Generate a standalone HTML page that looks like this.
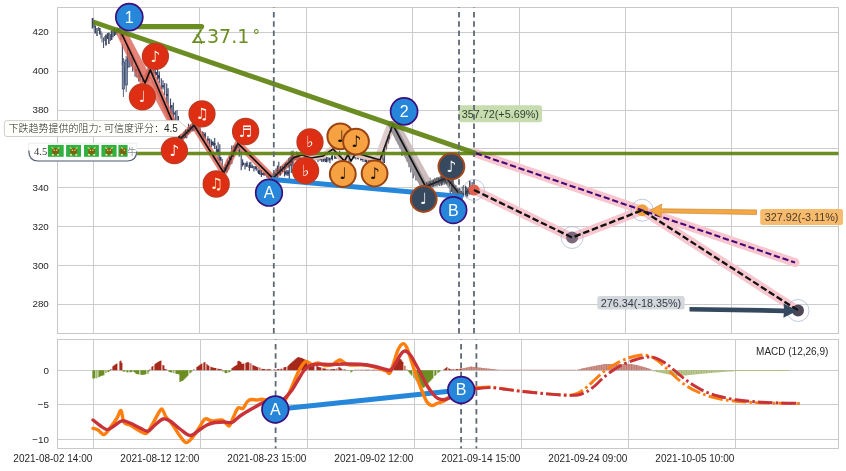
<!DOCTYPE html>
<html lang="zh"><head><meta charset="utf-8"><title>chart</title>
<style>html,body{margin:0;padding:0;background:#fff;}body{width:846px;height:471px;overflow:hidden;}svg{display:block}text{font-family:"Liberation Sans","Noto Sans CJK SC",sans-serif;}.tk{font-size:10px;fill:#262626}.nt{font-family:"DejaVu Sans","Liberation Sans",sans-serif;text-anchor:middle}</style></head><body>
<svg width="846" height="471" viewBox="0 0 846 471">
<rect width="846" height="471" fill="#fff"/>
<path d="M93.5 7.5V333.5M199.5 7.5V333.5M306.5 7.5V333.5M412.5 7.5V333.5M519.5 7.5V333.5M625.5 7.5V333.5M731.5 7.5V333.5M57.5 304.5H838.5M57.5 265.5H838.5M57.5 226.5H838.5M57.5 187.5H838.5M57.5 148.5H838.5M57.5 110.5H838.5M57.5 71.5H838.5M57.5 32.5H838.5" stroke="#cccccc" stroke-width="1" fill="none"/>
<path d="M93.5 339.5V448.5M200.5 339.5V448.5M307.5 339.5V448.5M414.5 339.5V448.5M521.5 339.5V448.5M628.5 339.5V448.5M735.5 339.5V448.5M57.5 370.5H838.5M57.5 404.5H838.5M57.5 439.5H838.5" stroke="#cccccc" stroke-width="1" fill="none"/>
<rect x="57.5" y="7.5" width="781.0" height="326.0" fill="none" stroke="#c8c8c8" stroke-width="1"/>
<rect x="57.5" y="339.5" width="781.0" height="109.0" fill="none" stroke="#c8c8c8" stroke-width="1"/>
<text class="tk" x="48.8" y="307.4" text-anchor="end" style="font-size:9.8px">280</text>
<text class="tk" x="48.8" y="268.6" text-anchor="end" style="font-size:9.8px">300</text>
<text class="tk" x="48.8" y="229.7" text-anchor="end" style="font-size:9.8px">320</text>
<text class="tk" x="48.8" y="190.8" text-anchor="end" style="font-size:9.8px">340</text>
<text class="tk" x="48.8" y="152.0" text-anchor="end" style="font-size:9.8px">360</text>
<text class="tk" x="48.8" y="113.1" text-anchor="end" style="font-size:9.8px">380</text>
<text class="tk" x="48.8" y="74.3" text-anchor="end" style="font-size:9.8px">400</text>
<text class="tk" x="48.8" y="35.4" text-anchor="end" style="font-size:9.8px">420</text>
<text class="tk" x="48.9" y="373.7" text-anchor="end" style="font-size:9.8px">0</text>
<text class="tk" x="48.9" y="408.2" text-anchor="end" style="font-size:9.8px">−5</text>
<text class="tk" x="48.9" y="442.7" text-anchor="end" style="font-size:9.8px">−10</text>
<text class="tk" x="92.3" y="461.8" text-anchor="end">2021-08-02 14:00</text>
<text class="tk" x="199.3" y="461.8" text-anchor="end">2021-08-12 12:00</text>
<text class="tk" x="306.3" y="461.8" text-anchor="end">2021-08-23 15:00</text>
<text class="tk" x="413.3" y="461.8" text-anchor="end">2021-09-02 12:00</text>
<text class="tk" x="520.3" y="461.8" text-anchor="end">2021-09-14 15:00</text>
<text class="tk" x="627.3" y="461.8" text-anchor="end">2021-09-24 09:00</text>
<text class="tk" x="734.3" y="461.8" text-anchor="end">2021-10-05 10:00</text>
<path d="M121.0 29.6v10.4M122.4 43.9v21.5M123.8 67.1v16.1M125.2 70.6v11.5M127.6 46.0v22.4M129.6 55.7v9.5M131.3 56.9v9.7M132.7 58.1v13.5M135.1 66.0v10.8M136.8 69.8v7.8M138.8 68.9v12.6M140.2 72.2v8.5M142.6 75.5v7.3M144.6 79.5v4.9M147.0 72.2v9.9M148.4 60.3v20.6M150.8 67.6v5.5M153.2 67.9v7.6M155.2 67.1v6.6M157.6 66.9v13.0M159.3 71.4v11.9M161.3 78.2v10.8M163.0 80.3v9.3M164.7 82.9v12.6M166.7 83.5v20.0M168.1 88.2v21.2M170.5 98.4v14.9M171.9 105.1v9.1M173.3 102.5v19.9M175.3 110.8v10.9M177.0 110.1v25.4M178.4 115.9v18.2M180.4 127.1v12.8M182.8 136.2v4.8M184.8 130.4v6.2M186.8 129.5v8.7M188.5 123.8v10.7M190.5 124.8v7.2M192.9 122.6v9.0M194.3 124.1v7.0M196.3 122.1v8.1M198.3 125.0v7.5M200.0 122.3v14.4M202.4 131.5v5.2M203.8 132.1v8.0M205.5 132.6v6.7M207.9 136.2v7.1M209.6 138.5v8.6M211.3 139.4v7.6M213.3 141.6v4.7M214.7 138.1v10.9M216.4 145.4v7.7M218.1 142.3v18.6M219.8 144.2v19.1M222.2 159.0v15.1M223.6 167.5v16.8M225.3 165.0v7.5M227.3 159.2v13.0M228.7 160.4v9.4M230.1 155.6v9.1M231.8 145.5v18.6M233.5 145.5v11.4M235.2 146.5v7.0M237.2 142.4v2.9M239.2 141.5v15.2M241.2 151.3v19.0M242.6 159.2v7.4M245.0 162.7v6.9M247.0 161.2v5.2M249.4 162.2v8.7M250.8 161.8v6.3M252.2 164.4v3.9M253.9 165.9v5.6M256.3 166.5v4.2M258.0 167.5v5.2M260.0 169.3v5.8M261.4 169.7v7.2M263.4 172.0v3.2M265.1 171.1v4.1M266.8 171.9v5.5M268.2 175.2v3.3M269.9 174.1v6.4M272.3 174.8v5.6M274.3 172.2v10.4M276.0 168.4v6.8M277.4 165.4v8.3M278.8 161.7v11.9M280.8 167.1v4.9M282.5 166.7v5.3M284.5 168.5v8.1M286.2 170.0v5.6M287.9 170.1v5.8M289.3 165.2v15.4M291.3 151.2v21.7M293.0 150.5v17.0M295.0 156.1v4.2M296.7 151.6v8.9M298.4 153.8v8.5M299.8 156.9v4.3M301.2 155.1v3.0M303.6 153.6v7.8M306.0 155.3v3.2M307.4 156.8v3.8M308.8 157.7v3.5M311.2 155.1v5.2M313.2 157.7v4.7M314.9 155.8v4.8M316.6 155.6v3.1M318.0 157.1v5.0M320.0 157.2v3.5M321.7 157.8v4.1M324.1 155.3v5.3M326.5 157.1v5.3M327.9 157.1v4.6M329.9 157.5v5.8M332.3 154.8v5.6M334.7 154.2v4.7M336.1 154.6v4.3M337.5 155.1v2.5M339.5 150.7v8.2M340.9 153.6v7.4M342.9 156.7v5.5M344.6 153.9v10.7M346.6 155.2v5.1M349.0 152.2v11.6M350.4 150.5v6.1M352.1 154.0v3.6M353.8 153.3v4.9M355.8 154.0v5.6M358.2 155.1v4.3M360.6 155.8v4.6M363.0 157.2v4.9M365.0 158.1v4.1M366.7 158.1v6.8M368.4 158.4v3.1M370.4 157.8v4.4M372.1 156.4v6.3M373.5 156.5v5.2M375.9 155.7v6.2M378.3 159.1v2.8M379.7 159.8v6.8M381.1 151.5v12.4M383.1 145.0v21.5M384.5 141.2v21.9M386.5 137.3v11.4M388.9 127.3v13.0M390.6 123.7v12.2M392.6 122.3v6.1M394.3 123.3v10.5M396.3 126.8v13.8M398.3 131.9v12.3M400.0 135.3v12.5M402.0 138.7v17.2M403.7 146.4v8.1M405.4 150.6v6.4M407.1 151.5v10.0M409.1 155.8v11.4M410.8 159.3v13.1M413.2 163.6v14.6M414.6 163.1v10.5M416.0 167.7v12.7M418.0 173.7v7.0M419.7 174.8v9.7M422.1 177.6v9.4M423.5 181.1v6.8M424.9 184.4v5.6M426.3 182.3v5.0M428.3 181.6v5.2M430.0 177.8v7.8M432.4 180.9v8.1M434.8 177.9v5.9M436.5 179.9v4.6M437.9 179.2v4.9M439.3 177.2v8.7M441.7 177.7v7.7M444.1 175.2v9.5M446.5 173.2v8.9M448.5 175.3v12.5M450.2 175.3v18.4M451.6 178.1v13.5M453.0 178.7v14.9M454.7 185.9v11.0M456.1 185.4v10.4M457.8 189.2v9.1M459.8 188.6v8.2M461.2 191.1v7.9M463.6 187.1v9.3M466.0 186.4v9.9M467.7 188.5v8.0M469.7 180.3v14.2M472.1 182.0v12.6" stroke="#3e4a6b" stroke-width="1.15" fill="none"/>
<path d="M121.0 33.5v2.0M123.5 66.9v10.0M126.0 70.1v10.0M129.5 59.2v1.9M132.0 62.2v1.9M136.0 68.7v3.1M139.5 75.0v1.9M143.0 78.7v2.8M145.5 79.7v2.7M148.5 72.5v3.6M151.0 69.9v2.7M153.5 70.0v3.1M156.0 72.1v3.1M159.0 74.9v3.6M163.0 85.2v2.0M167.0 93.9v2.0M171.0 105.4v1.9M174.5 112.4v2.1M177.5 120.6v2.9M180.0 132.7v2.3M184.0 134.8v2.9M187.5 130.8v2.3M190.5 126.9v3.1M194.5 124.8v1.9M197.0 126.9v2.7M200.0 129.4v3.0M204.0 133.9v3.5M208.0 138.8v1.8M212.0 141.6v3.5M214.5 143.1v1.8M218.0 149.2v2.8M220.5 157.0v3.7M223.5 170.1v1.7M226.0 166.0v4.0M230.0 158.0v3.5M233.0 151.7v3.3M236.0 145.1v2.4M239.5 149.4v3.7M243.0 162.5v2.6M246.5 162.9v3.8M249.5 165.0v3.0M252.5 166.2v1.6M255.5 166.2v3.1M259.0 170.2v3.7M262.0 172.9v2.2M264.5 173.0v2.4M268.5 174.4v3.0M271.0 175.2v2.8M275.0 173.9v2.4M279.0 168.8v2.9M282.5 169.6v1.7M285.5 171.2v3.4M288.0 171.5v2.8M291.5 161.5v4.0M295.0 156.6v3.4M298.0 155.4v3.0M302.0 156.3v2.4M304.5 156.0v2.1M307.0 156.2v1.5M310.5 156.5v2.8M313.5 157.4v2.3M316.5 156.9v3.1M320.5 158.2v1.5M323.5 159.1v2.6M326.0 158.4v3.7M329.5 158.1v2.2M332.0 155.7v3.6M335.5 155.2v2.9M339.5 154.4v3.8M342.0 158.1v1.6M345.0 157.7v1.6M347.5 154.3v2.9M350.5 153.5v2.0M354.5 156.3v1.9M358.0 155.6v3.1M362.0 158.7v1.5M366.0 159.2v2.7M370.0 157.9v4.0M373.5 159.6v1.6M377.0 159.9v3.8M380.5 160.3v2.2M384.5 149.8v3.8M388.0 135.7v3.8M391.0 127.3v2.8M394.0 126.0v2.1M397.0 133.0v3.4M400.5 141.3v2.5M403.5 147.8v3.6M407.5 155.7v2.8M410.0 161.4v2.6M413.0 167.0v2.3M416.0 171.6v3.0M419.0 176.8v1.6M421.5 181.1v1.9M424.5 184.9v1.6M427.5 184.3v3.1M430.0 183.6v1.7M433.5 180.3v3.9M436.0 181.1v3.4M440.0 178.6v2.0M442.5 176.6v3.9M445.0 177.7v3.1M448.5 180.1v1.8M451.5 184.0v2.3M455.0 187.8v2.1M458.5 190.9v3.4M462.0 192.7v3.0M466.0 190.8v3.0M468.5 190.3v1.6M471.0 186.6v3.3" stroke="#343f5c" stroke-width="2" fill="none"/>
<path d="M92.6 18V28.5" stroke="#3a4560" stroke-width="1.8" fill="none"/><path d="M94.3 20V27" stroke="#3a4560" stroke-width="0.9" fill="none"/><path d="M95.2 25.5V33.5" stroke="#3a4560" stroke-width="1.6" fill="none"/><path d="M97.0 28V36" stroke="#3a4560" stroke-width="1.4" fill="none"/><path d="M98.6 27V31" stroke="#3a4560" stroke-width="0.9" fill="none"/><path d="M99.8 28V34.5" stroke="#3a4560" stroke-width="1.6" fill="none"/><path d="M100.9 31V38.5" stroke="#3a4560" stroke-width="0.9" fill="none"/><path d="M102.0 33V42.5" stroke="#3a4560" stroke-width="0.9" fill="none"/><path d="M103.6 37.5V48" stroke="#3a4560" stroke-width="1.0" fill="none"/><path d="M104.8 36V41" stroke="#3a4560" stroke-width="0.9" fill="none"/><path d="M106.0 34.5V45.5" stroke="#3a4560" stroke-width="1.7" fill="none"/><path d="M107.6 33V39" stroke="#3a4560" stroke-width="1.3" fill="none"/><path d="M108.9 32.5V44" stroke="#3a4560" stroke-width="1.5" fill="none"/><path d="M110.4 34V41" stroke="#3a4560" stroke-width="0.9" fill="none"/><path d="M111.6 30.5V40" stroke="#3a4560" stroke-width="1.6" fill="none"/><path d="M113.0 29V37.5" stroke="#3a4560" stroke-width="1.2" fill="none"/><path d="M114.4 27.5V36" stroke="#3a4560" stroke-width="1.4" fill="none"/><path d="M115.8 29.5V35" stroke="#3a4560" stroke-width="1.4" fill="none"/><path d="M117.2 27.5V33.5" stroke="#3a4560" stroke-width="1.4" fill="none"/><path d="M118.6 28V33" stroke="#3a4560" stroke-width="1.3" fill="none"/><path d="M120.0 27V34" stroke="#3a4560" stroke-width="1.2" fill="none"/>
<path d="M123.4 58V97M126.2 56V92" stroke="#46536e" stroke-width="0.9" fill="none"/>
<rect x="122.2" y="62" width="2.4" height="27" fill="#7c89a6" stroke="#3d4a69" stroke-width="0.7"/>
<rect x="125" y="60" width="2.4" height="25" fill="#7c89a6" stroke="#3d4a69" stroke-width="0.7"/>
<rect x="127.8" y="53" width="2.2" height="14" fill="#7c89a6" stroke="#3d4a69" stroke-width="0.7"/>
<path d="M125.0 35.0L180.0 139.0L194.0 125.3L223.7 172.8L238.0 143.3L273.0 178.3L294.0 157.5L302.0 155.0" stroke="#dc6253" stroke-width="6.5" fill="none" stroke-linejoin="round" stroke-linecap="round" opacity="0.78"/>
<path d="M120.0 34.0L143.6 83.5L150.3 70.0L180.0 139.0" stroke="#dc6253" stroke-width="6.5" fill="none" stroke-linejoin="round" stroke-linecap="round" opacity="0.78"/>
<path d="M302.0 155.0L311.0 158.0L323.0 156.0L332.0 149.0L343.0 161.0L349.0 153.0L380.0 160.0L392.8 124.5" stroke="#e2c3be" stroke-width="5.5" fill="none" stroke-linejoin="round" stroke-linecap="round"/>
<path d="M376.5 160L389.3 125.5" stroke="#dfcccc" stroke-width="5.5" fill="none" stroke-linecap="round"/>
<path d="M397.6 126L431.2 187.5" stroke="#cfbebe" stroke-width="6" fill="none" stroke-linecap="round"/>
<path d="M391.5 124.5L424.3 186.6L445.3 178.0L459.7 196.0" stroke="#9a959a" stroke-width="7.2" fill="none" stroke-linejoin="round" stroke-linecap="round"/>
<path d="M121.8 34.0L145.0 83.0L150.3 70.0L180.0 139.0L194.0 125.3L223.7 172.8L238.0 143.3L273.0 178.3L294.0 157.5L302.0 155.0L311.0 158.0L323.0 156.0L333.0 149.0L344.5 161.0L348.0 154.5L351.0 161.0L356.0 153.0L380.0 160.0L392.8 124.5L425.6 186.6L446.6 178.0L461.0 196.0" stroke="#111" stroke-width="1.65" fill="none" stroke-linejoin="miter"/>
<path d="M441.0 174.1v11.7M442.3 174.2v10.6M443.9 175.3v7.4M445.2 173.4v10.2M446.8 172.3v12.1M448.1 177.4v6.0M449.7 179.5v6.8M451.7 179.7v12.4M453.0 180.5v13.7M455.0 185.4v8.8M457.0 188.0v8.1M458.3 189.2v8.3M459.6 187.8v13.5M460.9 190.9v10.0M462.2 186.4v13.5M463.5 185.2v9.9M465.5 185.8v10.5M466.8 187.2v11.0M468.4 187.3v6.8M470.0 181.4v13.1M180.8 135.8v4.8M182.7 134.1v4.5M184.0 132.1v6.0M185.6 129.0v9.1M187.5 129.0v5.3M189.4 127.0v5.6M191.0 125.7v5.1M192.9 122.2v8.3M224.5 167.3v7.8M226.1 164.1v7.4M228.0 161.3v5.2M229.6 156.7v7.8M231.5 153.7v6.1M233.1 150.1v6.7M234.7 146.4v7.4M236.0 144.4v6.1M237.9 139.0v9.0M273.8 174.0v7.0M275.4 172.9v6.0M277.3 169.7v8.7M279.2 169.6v5.2M280.5 166.1v9.5M282.4 165.9v6.1M284.3 164.0v6.2M285.6 162.8v6.1M286.9 161.7v5.7M288.8 157.9v9.6M290.1 156.7v9.4M291.4 157.4v5.4M292.7 154.0v9.5M426.4 182.2v8.2M428.0 182.7v5.8M429.3 181.2v7.7M430.6 181.6v5.9M432.2 180.5v6.8M433.5 180.1v6.5M435.1 178.7v8.0M437.0 177.2v9.5M438.6 177.9v6.8M439.9 177.9v5.7M441.8 176.7v6.5M443.7 176.4v5.7M445.3 174.5v8.0M382.8 152.3v8.3M384.4 147.0v8.8M386.3 141.4v8.2M388.2 135.5v8.0M389.5 131.4v7.9M391.4 126.9v5.0" stroke="#2b303b" stroke-width="0.9" fill="none" opacity="0.85"/>
<path d="M474.0 190.0L572.1 237.5L642.2 210.2L798.0 310.5" stroke="#f8c6ce" stroke-width="9" fill="none" stroke-linejoin="round" stroke-linecap="round"/>
<path d="M476.0 153.3L795.0 262.6" stroke="#f8c6ce" stroke-width="9" fill="none" stroke-linecap="round"/>
<path d="M137 153.5H838.5" stroke="#5b810b" stroke-width="3.4" fill="none" opacity="0.9"/>
<path d="M93.4 22L476 153.3" stroke="#5b810b" stroke-width="5" fill="none" stroke-linecap="butt" opacity="0.9"/>
<path d="M125 26.6H201.5" stroke="#6b8e23" stroke-width="5.4" fill="none" stroke-linecap="round"/>
<path d="M273 179.5L461 196.5" stroke="#2586da" stroke-width="5" fill="none" stroke-linecap="round"/>
<path d="M275.3 409.5L461.2 390" stroke="#2586da" stroke-width="5" fill="none" stroke-linecap="round"/>
<rect x="458.7" y="105.3" width="83.3" height="17" rx="2.5" fill="#c7ddb0"/>
<path d="M273.8 7.5V333.5" stroke="#5f6875" stroke-width="1.8" fill="none" stroke-dasharray="5.5 3.8" stroke-dashoffset="-4.4"/>
<path d="M275.6 339.5V448.5" stroke="#5f6875" stroke-width="1.8" fill="none" stroke-dasharray="5.5 3.8" stroke-dashoffset="-4.4"/>
<path d="M459 7.5V333.5" stroke="#5f6875" stroke-width="1.8" fill="none" stroke-dasharray="5.5 3.8" stroke-dashoffset="-4.4"/>
<path d="M461.1 339.5V448.5" stroke="#5f6875" stroke-width="1.8" fill="none" stroke-dasharray="5.5 3.8" stroke-dashoffset="-4.4"/>
<path d="M474 7.5V333.5" stroke="#5f6875" stroke-width="1.8" fill="none" stroke-dasharray="5.5 3.8" stroke-dashoffset="-4.4"/>
<path d="M476.4 339.5V448.5" stroke="#5f6875" stroke-width="1.8" fill="none" stroke-dasharray="5.5 3.8" stroke-dashoffset="-4.4"/>
<text x="500.3" y="117.7" font-size="10.8" text-anchor="middle" fill="#33402f">357.72(+5.69%)</text>
<path d="M110.90 370.2v-1.3M112.90 370.2v-4.0M113.90 370.2v-4.7M114.90 370.2v-5.4M115.90 370.2v-6.1M116.90 370.2v-6.8M119.90 370.2v-8.9M120.90 370.2v-9.6M121.90 370.2v-7.4M149.90 370.2v-1.0M151.90 370.2v-3.4M152.90 370.2v-4.3M154.90 370.2v-6.0M155.90 370.2v-6.9M156.90 370.2v-7.5M157.90 370.2v-8.1M158.90 370.2v-8.7M159.90 370.2v-9.2M160.90 370.2v-9.8M162.90 370.2v-5.1M163.90 370.2v-4.6M164.90 370.2v-1.3M165.90 370.2v-0.9M166.90 370.2v-0.5M193.90 370.2v-0.9M196.90 370.2v-3.2M197.90 370.2v-4.0M198.90 370.2v-4.7M199.90 370.2v-5.4M200.90 370.2v-6.0M201.90 370.2v-6.6M203.90 370.2v-7.8M204.90 370.2v-8.3M206.90 370.2v-6.1M207.90 370.2v-5.0M208.90 370.2v-4.4M210.90 370.2v-3.4M211.90 370.2v-3.0M212.90 370.2v-2.8M213.90 370.2v-2.5M214.90 370.2v-2.3M215.90 370.2v-2.1M217.90 370.2v-1.6M218.90 370.2v-1.3M219.90 370.2v-1.1M220.90 370.2v-0.9M221.90 370.2v-0.6M231.90 370.2v-1.9M232.90 370.2v-2.6M233.90 370.2v-3.4M234.90 370.2v-4.1M235.90 370.2v-4.8M236.90 370.2v-5.5M237.90 370.2v-9.0M238.90 370.2v-9.5M239.90 370.2v-8.9M240.90 370.2v-8.3M241.90 370.2v-6.4M242.90 370.2v-6.5M243.90 370.2v-6.8M245.90 370.2v-7.5M246.90 370.2v-7.8M247.90 370.2v-8.2M248.90 370.2v-7.8M250.90 370.2v-7.0M252.90 370.2v-5.1M253.90 370.2v-4.7M254.90 370.2v-4.3M255.90 370.2v-4.0M256.90 370.2v-3.3M257.90 370.2v-2.9M259.90 370.2v-2.6M261.90 370.2v-1.4M262.90 370.2v-1.2M263.90 370.2v-1.1M264.90 370.2v-1.1M266.90 370.2v-1.0M267.90 370.2v-1.0M268.90 370.2v-0.9M269.90 370.2v-0.9M270.90 370.2v-0.8M273.90 370.2v-0.6M274.90 370.2v-0.6M275.90 370.2v-0.5M276.90 370.2v-0.4M277.90 370.2v-1.1M278.90 370.2v-1.3M280.90 370.2v-1.4M281.90 370.2v-1.4M283.90 370.2v-2.8M284.90 370.2v-3.1M285.90 370.2v-3.2M287.90 370.2v-4.0M288.90 370.2v-5.3M289.90 370.2v-6.2M290.90 370.2v-7.1M291.90 370.2v-8.0M292.90 370.2v-8.9M293.90 370.2v-9.8M294.90 370.2v-10.6M295.90 370.2v-11.4M296.90 370.2v-12.3M297.90 370.2v-13.1M298.90 370.2v-13.0M299.90 370.2v-12.7M300.90 370.2v-12.5M301.90 370.2v-12.2M302.90 370.2v-11.7M303.90 370.2v-11.2M304.90 370.2v-10.6M305.90 370.2v-10.1M306.90 370.2v-9.6M308.90 370.2v-8.4M309.90 370.2v-7.8M310.90 370.2v-7.2M311.90 370.2v-6.6M312.90 370.2v-6.1M313.90 370.2v-5.6M316.90 370.2v-4.1M317.90 370.2v-3.6M318.90 370.2v-3.2M319.90 370.2v-2.9M320.90 370.2v-2.6M322.90 370.2v-2.0M323.90 370.2v-1.8M324.90 370.2v-1.7M325.90 370.2v-1.5M327.90 370.2v-1.2M329.90 370.2v-0.8M330.90 370.2v-0.9M331.90 370.2v-0.9M332.90 370.2v-1.0M333.90 370.2v-1.1M334.90 370.2v-1.1M336.90 370.2v-1.8M338.90 370.2v-3.1M339.90 370.2v-2.6M340.90 370.2v-1.9M341.90 370.2v-1.3M343.90 370.2v-0.8M344.90 370.2v-0.6M345.90 370.2v-0.4M354.90 370.2v-0.4M355.90 370.2v-0.4M357.90 370.2v-0.4M358.90 370.2v-0.4M360.90 370.2v-0.4M361.90 370.2v-0.4M362.90 370.2v-0.4M364.90 370.2v-0.4M365.90 370.2v-0.4M366.90 370.2v-0.4M367.90 370.2v-0.4M368.90 370.2v-0.4M369.90 370.2v-0.4M371.90 370.2v-0.5M372.90 370.2v-0.5M373.90 370.2v-0.5M374.90 370.2v-0.5M375.90 370.2v-0.5M376.90 370.2v-0.5M378.90 370.2v-0.5M379.90 370.2v-0.5M380.90 370.2v-0.5M382.90 370.2v-0.5M383.90 370.2v-0.5M385.90 370.2v-0.5M386.90 370.2v-0.5M387.90 370.2v-0.5M388.90 370.2v-1.1M389.90 370.2v-1.9M390.90 370.2v-2.6M393.90 370.2v-7.1M394.90 370.2v-8.8M395.90 370.2v-10.0M396.90 370.2v-11.1M397.90 370.2v-12.2M398.90 370.2v-11.9M399.90 370.2v-11.5M400.90 370.2v-11.0M401.90 370.2v-9.7M402.90 370.2v-8.2M404.90 370.2v-4.5M406.90 370.2v-0.8M443.90 370.2v-0.6M444.90 370.2v-1.4M445.90 370.2v-2.3M446.90 370.2v-3.1M448.90 370.2v-1.9M449.90 370.2v-1.3M450.90 370.2v-0.8M451.90 370.2v-0.8M452.90 370.2v-0.8M453.90 370.2v-0.9M455.90 370.2v-1.0M456.90 370.2v-1.1M457.90 370.2v-1.2M459.90 370.2v-1.5M460.90 370.2v-1.6" stroke="#a5281b" stroke-width="1.05" fill="none"/>
<path d="M92.90 370.2v8.3M93.90 370.2v8.2M94.90 370.2v8.1M96.90 370.2v8.0M98.90 370.2v7.0M99.90 370.2v6.5M100.90 370.2v5.9M101.90 370.2v5.6M102.90 370.2v5.4M103.90 370.2v5.1M105.90 370.2v2.7M107.90 370.2v2.0M108.90 370.2v1.7M109.90 370.2v0.9M122.90 370.2v1.2M123.90 370.2v1.4M124.90 370.2v1.6M126.90 370.2v2.1M127.90 370.2v2.3M129.90 370.2v2.1M130.90 370.2v2.0M131.90 370.2v1.9M133.90 370.2v1.7M134.90 370.2v2.4M135.90 370.2v3.6M136.90 370.2v3.8M137.90 370.2v4.0M138.90 370.2v4.2M140.90 370.2v4.6M141.90 370.2v4.8M142.90 370.2v4.6M143.90 370.2v4.5M144.90 370.2v4.3M145.90 370.2v4.1M147.90 370.2v3.8M148.90 370.2v1.5M168.90 370.2v1.6M169.90 370.2v1.9M170.90 370.2v2.2M171.90 370.2v2.4M173.90 370.2v3.0M175.90 370.2v3.5M176.90 370.2v3.7M177.90 370.2v3.9M178.90 370.2v4.2M179.90 370.2v11.7M180.90 370.2v11.3M181.90 370.2v10.9M182.90 370.2v10.5M183.90 370.2v9.6M184.90 370.2v8.6M185.90 370.2v7.6M186.90 370.2v6.6M187.90 370.2v5.6M189.90 370.2v3.4M190.90 370.2v2.3M191.90 370.2v1.2M222.90 370.2v1.6M224.90 370.2v2.6M225.90 370.2v3.1M226.90 370.2v2.9M228.90 370.2v2.3M229.90 370.2v1.8M347.90 370.2v0.7M350.90 370.2v2.3M351.90 370.2v1.5M352.90 370.2v0.6M407.90 370.2v0.6M408.90 370.2v2.0M409.90 370.2v3.2M410.90 370.2v4.3M411.90 370.2v5.5M413.90 370.2v7.9M415.90 370.2v10.1M416.90 370.2v11.2M417.90 370.2v12.3M418.90 370.2v13.4M419.90 370.2v14.4M420.90 370.2v15.4M421.90 370.2v16.5M422.90 370.2v17.5M423.90 370.2v17.5M424.90 370.2v16.5M425.90 370.2v15.6M426.90 370.2v14.6M427.90 370.2v13.5M428.90 370.2v12.4M429.90 370.2v11.3M430.90 370.2v10.2M431.90 370.2v9.1M432.90 370.2v8.0M434.90 370.2v5.8M435.90 370.2v4.7M437.90 370.2v2.8M438.90 370.2v2.0M439.90 370.2v1.2" stroke="#6b8e23" stroke-width="1.05" fill="none"/>
<path d="M461.5 370.2v-1.6M462.8 370.2v-1.9M464.0 370.2v-2.2M465.2 370.2v-2.4M466.5 370.2v-2.7M467.8 370.2v-3.0M469.0 370.2v-3.3M470.2 370.2v-3.8M471.5 370.2v-3.6M472.8 370.2v-3.5M474.0 370.2v-3.3M475.2 370.2v-3.2M476.5 370.2v-3.0M477.8 370.2v-2.9M479.0 370.2v-2.7M480.2 370.2v-2.6M481.5 370.2v-2.4M482.8 370.2v-2.3M484.0 370.2v-2.2M485.2 370.2v-2.0M486.5 370.2v-1.9M487.8 370.2v-1.7M489.0 370.2v-1.6M490.2 370.2v-1.5M491.5 370.2v-1.3M492.8 370.2v-1.2M494.0 370.2v-1.1M495.2 370.2v-0.9M496.5 370.2v-0.8M497.8 370.2v-0.6M499.0 370.2v-0.5M500.2 370.2v-0.4M501.5 370.2v-0.4M502.8 370.2v-0.4M504.0 370.2v-0.4M505.2 370.2v-0.4M506.5 370.2v-0.4M507.8 370.2v-0.4M509.0 370.2v-0.4M510.2 370.2v-0.4M511.5 370.2v-0.4M512.8 370.2v-0.4M514.0 370.2v-0.4M515.2 370.2v-0.4M516.5 370.2v-0.4M517.8 370.2v-0.4M519.0 370.2v-0.4M520.2 370.2v-0.4M521.5 370.2v-0.4M522.8 370.2v-0.4M524.0 370.2v-0.4M525.2 370.2v-0.4M526.5 370.2v-0.4M527.8 370.2v-0.4M529.0 370.2v-0.4M530.2 370.2v-0.4M531.5 370.2v-0.4M532.8 370.2v-0.4M534.0 370.2v-0.4M535.2 370.2v-0.4M536.5 370.2v-0.4M537.8 370.2v-0.4M539.0 370.2v-0.4M540.2 370.2v-0.4M541.5 370.2v-0.4M542.8 370.2v-0.4M544.0 370.2v-0.4M545.2 370.2v-0.4M546.5 370.2v-0.4M547.8 370.2v-0.4M549.0 370.2v-0.4M550.2 370.2v-0.4M551.5 370.2v-0.4M552.8 370.2v-0.4M554.0 370.2v-0.4M555.2 370.2v-0.4M556.5 370.2v-0.4M557.8 370.2v-0.4M559.0 370.2v-0.4M560.2 370.2v-0.4M561.5 370.2v-0.4M562.8 370.2v-0.4M564.0 370.2v-0.4M565.2 370.2v-0.4M566.5 370.2v-0.4M567.8 370.2v-0.4M569.0 370.2v-0.4M570.2 370.2v-0.4M571.5 370.2v-0.4M572.8 370.2v-0.4M574.0 370.2v-0.4M575.2 370.2v-0.4M576.5 370.2v-0.2M577.8 370.2v-0.7M579.0 370.2v-1.0M580.2 370.2v-1.3M581.5 370.2v-1.6M582.8 370.2v-1.9M584.0 370.2v-2.2M585.2 370.2v-2.5M586.5 370.2v-2.7M587.8 370.2v-3.0M589.0 370.2v-3.2M590.2 370.2v-3.5M591.5 370.2v-3.7M592.8 370.2v-4.0M594.0 370.2v-4.2M595.2 370.2v-4.4M596.5 370.2v-4.7M597.8 370.2v-4.9M599.0 370.2v-5.1M600.2 370.2v-5.3M601.5 370.2v-5.6M602.8 370.2v-5.8M604.0 370.2v-6.2M605.2 370.2v-6.2M606.5 370.2v-6.2M607.8 370.2v-6.2M609.0 370.2v-6.2M610.2 370.2v-6.2M611.5 370.2v-6.2M612.8 370.2v-6.2M614.0 370.2v-6.2M615.2 370.2v-6.2M616.5 370.2v-6.2M617.8 370.2v-6.2M619.0 370.2v-6.2M620.2 370.2v-6.2M621.5 370.2v-6.2M622.8 370.2v-6.2M624.0 370.2v-6.2M625.2 370.2v-6.2M626.5 370.2v-6.2M627.8 370.2v-6.2M629.0 370.2v-6.2M630.2 370.2v-6.2M631.5 370.2v-6.2M632.8 370.2v-6.0M634.0 370.2v-5.8M635.2 370.2v-5.5M636.5 370.2v-5.2M637.8 370.2v-4.9M639.0 370.2v-4.6M640.2 370.2v-4.3M641.5 370.2v-3.9M642.8 370.2v-3.6M644.0 370.2v-3.3M645.2 370.2v-2.9M646.5 370.2v-2.5M647.8 370.2v-2.1M649.0 370.2v-1.6M650.2 370.2v-1.1M651.5 370.2v-0.5" stroke="#b86a5c" stroke-width="1.1" fill="none" opacity="0.9"/>
<path d="M652.8 370.2v0.5M654.0 370.2v1.0M655.2 370.2v1.4M656.5 370.2v1.7M657.8 370.2v2.0M659.0 370.2v2.3M660.2 370.2v2.6M661.5 370.2v2.9M662.8 370.2v3.1M664.0 370.2v3.4M665.2 370.2v3.6M666.5 370.2v3.9M667.8 370.2v4.1M669.0 370.2v4.3M670.2 370.2v4.5M671.5 370.2v4.8M672.8 370.2v5.0M674.0 370.2v5.2M675.2 370.2v5.4M676.5 370.2v6.2M677.8 370.2v6.1M679.0 370.2v6.0M680.2 370.2v5.8M681.5 370.2v5.7M682.8 370.2v5.6M684.0 370.2v5.4M685.2 370.2v5.3M686.5 370.2v5.2M687.8 370.2v5.0M689.0 370.2v4.9M690.2 370.2v4.8M691.5 370.2v4.6M692.8 370.2v4.5M694.0 370.2v4.4M695.2 370.2v4.3M696.5 370.2v4.1M697.8 370.2v4.0M699.0 370.2v3.9M700.2 370.2v3.8M701.5 370.2v3.6M702.8 370.2v3.5M704.0 370.2v3.4M705.2 370.2v3.3M706.5 370.2v3.2M707.8 370.2v3.1M709.0 370.2v2.9M710.2 370.2v2.8M711.5 370.2v2.7M712.8 370.2v2.6M714.0 370.2v2.5M715.2 370.2v2.4M716.5 370.2v2.3M717.8 370.2v2.2M719.0 370.2v2.1M720.2 370.2v2.0M721.5 370.2v1.9M722.8 370.2v1.8M724.0 370.2v1.7M725.2 370.2v1.6M726.5 370.2v1.5M727.8 370.2v1.4M729.0 370.2v1.4M730.2 370.2v1.3M731.5 370.2v1.2M732.8 370.2v1.1M734.0 370.2v1.1M735.2 370.2v1.0M736.5 370.2v0.9M737.8 370.2v0.9M739.0 370.2v0.8M740.2 370.2v0.8M741.5 370.2v0.8M742.8 370.2v0.8M744.0 370.2v0.8M745.2 370.2v0.8M746.5 370.2v0.8M747.8 370.2v0.8M749.0 370.2v0.8M750.2 370.2v0.8M751.5 370.2v0.8M752.8 370.2v0.8M754.0 370.2v0.8M755.2 370.2v0.8M756.5 370.2v0.8M757.8 370.2v0.8M759.0 370.2v0.8M760.2 370.2v0.8M761.5 370.2v0.8M762.8 370.2v0.8M764.0 370.2v0.8M765.2 370.2v0.8M766.5 370.2v0.8M767.8 370.2v0.8M769.0 370.2v0.8M770.2 370.2v0.8M771.5 370.2v0.8M772.8 370.2v0.8M774.0 370.2v0.8M775.2 370.2v0.8M776.5 370.2v0.8M777.8 370.2v0.8M779.0 370.2v0.8M780.2 370.2v0.8M781.5 370.2v0.8M782.8 370.2v0.8M784.0 370.2v0.8M785.2 370.2v0.8M786.5 370.2v0.8M787.8 370.2v0.8M789.0 370.2v0.8" stroke="#a3b56e" stroke-width="1.1" fill="none" opacity="0.95"/>
<path d="M93.0 428.4C93.8 428.7 96.2 429.0 98.0 430.0C99.8 431.0 102.0 434.8 104.0 434.5C106.0 434.2 107.8 430.8 110.0 428.0C112.2 425.2 115.2 420.9 117.0 418.0C118.8 415.1 119.8 409.8 121.0 410.5C122.2 411.2 122.5 420.0 124.0 422.4C125.5 424.8 127.7 423.7 130.0 425.0C132.3 426.3 135.3 428.6 138.0 430.0C140.7 431.4 143.7 434.3 146.0 433.5C148.3 432.7 150.0 428.2 152.0 425.0C154.0 421.8 156.3 416.7 158.0 414.0C159.7 411.3 160.7 408.5 162.0 409.0C163.3 409.5 164.3 414.5 166.0 417.0C167.7 419.5 169.7 420.8 172.0 424.0C174.3 427.2 177.7 432.9 180.0 436.0C182.3 439.1 184.0 442.3 186.0 442.6C188.0 442.9 189.8 440.4 192.0 438.0C194.2 435.6 196.8 431.2 199.0 428.0C201.2 424.8 202.8 420.2 205.0 419.0C207.2 417.8 209.2 420.8 212.0 421.0C214.8 421.2 219.2 419.2 222.0 420.0C224.8 420.8 227.2 426.3 229.0 426.0C230.8 425.7 231.5 421.0 233.0 418.0C234.5 415.0 236.3 409.6 238.0 408.0C239.7 406.4 241.5 409.5 243.0 408.5C244.5 407.5 245.7 403.5 247.0 402.0C248.3 400.5 249.3 399.8 251.0 399.5C252.7 399.2 255.2 400.0 257.0 400.0C258.8 400.0 259.8 399.1 262.0 399.3C264.2 399.5 267.7 399.4 270.0 401.0C272.3 402.6 273.8 408.5 276.0 409.0C278.2 409.5 280.7 407.0 283.0 404.0C285.3 401.0 287.8 395.5 290.0 391.0C292.2 386.5 294.2 381.0 296.0 377.0C297.8 373.0 299.3 369.6 301.0 367.0C302.7 364.4 304.2 361.8 306.0 361.4C307.8 361.0 310.0 364.2 312.0 364.5C314.0 364.8 315.8 362.8 318.0 363.0C320.2 363.2 322.7 365.2 325.0 365.5C327.3 365.8 330.2 365.6 332.0 365.0C333.8 364.4 334.7 362.8 336.0 362.0C337.3 361.2 338.5 359.8 340.0 360.0C341.5 360.2 343.3 362.2 345.0 363.0C346.7 363.8 346.7 364.7 350.0 365.0C353.3 365.3 360.3 364.5 365.0 365.0C369.7 365.5 374.5 367.0 378.0 368.0C381.5 369.0 384.0 370.2 386.0 371.0C388.0 371.8 388.7 374.5 390.0 373.0C391.3 371.5 392.7 365.8 394.0 362.0C395.3 358.2 396.5 353.1 398.0 350.0C399.5 346.9 401.5 344.0 403.0 343.7C404.5 343.4 405.7 345.3 407.0 348.0C408.3 350.7 409.5 355.5 411.0 360.0C412.5 364.5 414.2 369.8 416.0 375.0C417.8 380.2 420.2 386.5 422.0 391.0C423.8 395.5 425.3 399.6 427.0 402.0C428.7 404.4 430.2 405.3 432.0 405.5C433.8 405.7 436.0 403.8 438.0 403.0C440.0 402.2 442.0 402.2 444.0 401.0C446.0 399.8 448.0 397.5 450.0 396.0C452.0 394.5 454.2 393.0 456.0 392.0C457.8 391.0 459.0 390.6 461.0 390.0C463.0 389.4 465.5 388.9 468.0 388.5C470.5 388.1 474.7 387.7 476.0 387.5" stroke="#ff7f0e" stroke-width="3.4" fill="none" stroke-linejoin="round" stroke-linecap="round"/>
<path d="M93.0 420.0C94.2 420.9 97.7 423.9 100.0 425.5C102.3 427.1 104.7 429.5 107.0 429.6C109.3 429.7 111.5 427.5 114.0 426.0C116.5 424.5 119.3 421.3 122.0 420.8C124.7 420.3 127.0 421.8 130.0 423.0C133.0 424.2 137.0 426.6 140.0 428.0C143.0 429.4 145.5 431.7 148.0 431.2C150.5 430.7 152.5 427.0 155.0 425.0C157.5 423.0 160.5 419.7 163.0 419.0C165.5 418.3 167.2 419.3 170.0 421.0C172.8 422.7 176.7 426.6 180.0 429.0C183.3 431.4 187.0 435.2 190.0 435.5C193.0 435.8 195.2 432.8 198.0 431.0C200.8 429.2 204.2 426.4 207.0 425.0C209.8 423.6 212.2 423.0 215.0 422.5C217.8 422.0 221.2 422.0 224.0 422.0C226.8 422.0 229.3 423.5 232.0 422.5C234.7 421.5 237.3 417.9 240.0 416.0C242.7 414.1 245.3 412.6 248.0 411.0C250.7 409.4 253.3 407.9 256.0 406.5C258.7 405.1 261.3 402.9 264.0 402.5C266.7 402.1 269.5 403.8 272.0 404.0C274.5 404.2 276.7 405.2 279.0 404.0C281.3 402.8 283.8 399.3 286.0 397.0C288.2 394.7 290.0 392.8 292.0 390.0C294.0 387.2 296.0 383.2 298.0 380.0C300.0 376.8 302.0 372.9 304.0 370.5C306.0 368.1 307.7 366.6 310.0 365.5C312.3 364.4 314.7 364.4 318.0 364.2C321.3 364.0 325.5 364.5 330.0 364.5C334.5 364.5 340.0 364.0 345.0 364.0C350.0 364.0 355.0 363.9 360.0 364.3C365.0 364.7 370.7 365.6 375.0 366.5C379.3 367.4 383.3 368.9 386.0 369.5C388.7 370.1 389.3 371.2 391.0 370.0C392.7 368.8 394.3 365.2 396.0 362.5C397.7 359.8 399.5 355.9 401.0 354.0C402.5 352.1 403.5 350.9 405.0 351.0C406.5 351.1 408.3 352.5 410.0 354.5C411.7 356.5 413.2 359.8 415.0 363.0C416.8 366.2 419.0 370.2 421.0 374.0C423.0 377.8 425.0 382.2 427.0 385.5C429.0 388.8 431.2 391.8 433.0 394.0C434.8 396.2 436.0 397.6 438.0 398.5C440.0 399.4 442.7 399.8 445.0 399.5C447.3 399.2 449.3 398.3 452.0 397.0C454.7 395.7 458.3 392.7 461.0 391.5C463.7 390.3 465.5 390.4 468.0 390.0C470.5 389.6 474.7 389.0 476.0 388.8" stroke="#c8333a" stroke-width="3.4" fill="none" stroke-linejoin="round" stroke-linecap="round"/>
<path d="M476.0 387.5C478.3 387.4 485.2 386.8 490.0 387.0C494.8 387.2 500.0 388.3 505.0 389.0C510.0 389.7 513.3 390.2 520.0 391.0C526.7 391.8 537.5 392.8 545.0 393.5C552.5 394.2 560.2 394.8 565.0 395.0C569.8 395.2 571.3 395.1 574.0 394.5C576.7 393.9 578.7 392.9 581.0 391.5C583.3 390.1 585.5 388.2 588.0 386.0C590.5 383.8 593.0 381.2 596.0 378.5C599.0 375.8 602.3 372.7 606.0 370.0C609.7 367.3 614.0 364.6 618.0 362.5C622.0 360.4 626.3 358.7 630.0 357.5C633.7 356.3 637.3 355.7 640.0 355.3C642.7 354.9 644.0 354.9 646.0 355.2C648.0 355.5 649.7 355.8 652.0 357.0C654.3 358.2 657.3 360.3 660.0 362.5C662.7 364.7 665.3 367.5 668.0 370.0C670.7 372.5 673.0 374.9 676.0 377.5C679.0 380.1 682.3 383.1 686.0 385.5C689.7 387.9 693.7 390.1 698.0 392.0C702.3 393.9 707.0 395.6 712.0 397.0C717.0 398.4 722.0 399.4 728.0 400.3C734.0 401.2 740.7 401.7 748.0 402.2C755.3 402.7 763.3 403.0 772.0 403.2C780.7 403.4 795.3 403.5 800.0 403.6" stroke="#ff7f0e" stroke-width="2.9" fill="none" stroke-dasharray="14.5 3.2 2.6 3.2"/>
<path d="M476.0 388.8C478.3 388.6 485.2 387.5 490.0 387.6C494.8 387.7 500.0 388.7 505.0 389.3C510.0 389.9 513.3 390.4 520.0 391.2C526.7 391.9 537.0 393.1 545.0 393.8C553.0 394.5 562.5 395.1 568.0 395.3C573.5 395.5 575.0 395.6 578.0 395.0C581.0 394.4 583.3 393.4 586.0 392.0C588.7 390.6 591.3 388.7 594.0 386.5C596.7 384.3 599.0 381.6 602.0 379.0C605.0 376.4 608.3 373.5 612.0 371.0C615.7 368.5 620.0 365.9 624.0 364.0C628.0 362.1 632.3 360.6 636.0 359.5C639.7 358.4 643.3 357.6 646.0 357.2C648.7 356.8 650.0 356.9 652.0 357.2C654.0 357.5 655.7 357.9 658.0 359.0C660.3 360.1 663.3 361.7 666.0 363.5C668.7 365.3 671.0 367.5 674.0 370.0C677.0 372.5 680.7 375.9 684.0 378.5C687.3 381.1 690.3 383.2 694.0 385.5C697.7 387.8 701.7 390.2 706.0 392.0C710.3 393.8 715.0 395.2 720.0 396.5C725.0 397.8 730.0 398.9 736.0 399.8C742.0 400.7 749.0 401.3 756.0 401.8C763.0 402.3 770.7 402.6 778.0 402.9C785.3 403.2 796.3 403.3 800.0 403.4" stroke="#c8333a" stroke-width="2.9" fill="none" stroke-dasharray="14.5 3.2 2.6 3.2"/>
<circle cx="474" cy="190" r="10.5" fill="none" stroke="#a3b3cc" stroke-width="0.7"/>
<circle cx="474" cy="190" r="5.6" fill="#e0604f"/>
<circle cx="572.1" cy="237.5" r="11" fill="none" stroke="#a3b3cc" stroke-width="0.7"/>
<circle cx="572.1" cy="237.5" r="6" fill="#7c6a7c"/>
<circle cx="642.2" cy="210.2" r="11" fill="none" stroke="#a3b3cc" stroke-width="0.7"/>
<circle cx="642.2" cy="210.2" r="6" fill="#f0a040"/>
<circle cx="798" cy="310.5" r="11" fill="none" stroke="#a3b3cc" stroke-width="0.7"/>
<circle cx="798" cy="310.5" r="6" fill="#4d4756"/>
<path d="M476.0 153.3L795.0 262.6" stroke="#470878" stroke-width="2.1" fill="none" stroke-dasharray="6.2 2.8"/>
<path d="M474.0 190.0L572.1 237.5L642.2 210.2L798.0 310.5" stroke="#111" stroke-width="2.3" fill="none" stroke-dasharray="6.5 2.8"/>
<path d="M756.5 209.9L661 208.8L661.9 204L649.6 210.6L661.5 217.4L661 212.8L756.5 214.6Z" fill="#f5a742" stroke="#c07a28" stroke-width="0.6"/>
<path d="M689.5 307L784 308.4L783.6 303.6L797.5 310.8L783.4 317.8L783.8 313.2L689.5 311.6Z" fill="#34495e"/>
<rect x="760.2" y="209" width="82.8" height="16.0" rx="2.5" fill="#f7b765" opacity="0.95"/>
<text x="801.6" y="220.9" font-size="10.8" text-anchor="middle" fill="#4a3a2a">327.92(-3.11%)</text>
<rect x="597.3" y="296" width="87.4" height="13.5" rx="2.5" fill="#d2d5da" opacity="0.95"/>
<text x="641.0" y="306.6" font-size="10.8" text-anchor="middle" fill="#333a44">276.34(-18.35%)</text>
<text x="190" y="42.8" font-size="19" fill="#6b8e23" style="font-family:'DejaVu Sans',sans-serif">∡37.1</text>
<text x="252.4" y="41" font-size="15" fill="#6b8e23" style="font-family:'DejaVu Sans',sans-serif">°</text>
<circle cx="155.4" cy="56.3" r="12.9" fill="#de2e14" stroke="#c23a20" stroke-width="1.5"/>
<text class="nt" x="155.4" y="61.5" font-size="15.5" fill="#fff6d8">♪</text>
<circle cx="142.4" cy="96.8" r="12.9" fill="#de2e14" stroke="#c23a20" stroke-width="1.5"/>
<text class="nt" x="142.4" y="102.0" font-size="15.5" fill="#ffe9e0">♩</text>
<circle cx="202" cy="113.8" r="12.9" fill="#de2e14" stroke="#c23a20" stroke-width="1.5"/>
<text class="nt" x="202" y="119.0" font-size="15.5" fill="#fff6e8">♫</text>
<circle cx="174.4" cy="150.7" r="12.9" fill="#de2e14" stroke="#c23a20" stroke-width="1.5"/>
<text class="nt" x="174.4" y="155.9" font-size="15.5" fill="#fff">♪</text>
<circle cx="216.2" cy="184" r="12.9" fill="#de2e14" stroke="#c23a20" stroke-width="1.5"/>
<text class="nt" x="216.2" y="189.2" font-size="15.5" fill="#fff0c8">♫</text>
<circle cx="245.6" cy="131.5" r="12.9" fill="#de2e14" stroke="#c23a20" stroke-width="1.5"/>
<text class="nt" x="245.6" y="136.7" font-size="15.5" fill="#fff">♬</text>
<circle cx="310" cy="142" r="12.9" fill="#de2e14" stroke="#c23a20" stroke-width="1.5"/>
<text class="nt" x="310" y="147.2" font-size="15.5" fill="#fff">♭</text>
<circle cx="305.6" cy="170.7" r="12.9" fill="#de2e14" stroke="#c23a20" stroke-width="1.5"/>
<text class="nt" x="305.6" y="175.9" font-size="15.5" fill="#fff">♭</text>
<circle cx="340.3" cy="136.3" r="12.9" fill="#f6a243" stroke="#9a4312" stroke-width="2.0"/>
<text class="nt" x="340.3" y="141.5" font-size="16" fill="#1a1208">♩</text>
<circle cx="356" cy="141.6" r="12.9" fill="#f6a243" stroke="#9a4312" stroke-width="2.0"/>
<text class="nt" x="356" y="146.8" font-size="16" fill="#1a1208">♪</text>
<circle cx="342.8" cy="174" r="12.9" fill="#f6a243" stroke="#9a4312" stroke-width="2.0"/>
<text class="nt" x="342.8" y="179.2" font-size="16" fill="#1a1208">♩</text>
<circle cx="374.6" cy="173.5" r="12.9" fill="#f6a243" stroke="#9a4312" stroke-width="2.0"/>
<text class="nt" x="374.6" y="178.7" font-size="16" fill="#1a1208">♪</text>
<circle cx="451.4" cy="166.5" r="12.9" fill="#36495f" stroke="#a4471c" stroke-width="2.0"/>
<text class="nt" x="451.4" y="171.7" font-size="15.5" fill="#fff">♪</text>
<circle cx="423.7" cy="199" r="12.9" fill="#36495f" stroke="#a4471c" stroke-width="2.0"/>
<text class="nt" x="423.7" y="204.2" font-size="15.5" fill="#fff">♩</text>
<circle cx="129.3" cy="17.1" r="13.5" fill="#2586da" stroke="#3b0f7d" stroke-width="1.7"/>
<text x="129.3" y="22.5" font-size="16" text-anchor="middle" fill="#fff">1</text>
<circle cx="269" cy="192.7" r="13.3" fill="#2586da" stroke="#3b0f7d" stroke-width="1.7"/>
<text x="269" y="198.1" font-size="16" text-anchor="middle" fill="#fff">A</text>
<circle cx="404.1" cy="111.4" r="13.5" fill="#2586da" stroke="#3b0f7d" stroke-width="1.7"/>
<text x="404.1" y="116.80000000000001" font-size="16" text-anchor="middle" fill="#fff">2</text>
<circle cx="453.3" cy="210.1" r="13.3" fill="#2586da" stroke="#3b0f7d" stroke-width="1.7"/>
<text x="453.3" y="215.5" font-size="16" text-anchor="middle" fill="#fff">B</text>
<circle cx="275.3" cy="409.5" r="13.3" fill="#2586da" stroke="#3b0f7d" stroke-width="1.7"/>
<text x="275.3" y="414.9" font-size="16" text-anchor="middle" fill="#fff">A</text>
<circle cx="461.2" cy="390" r="13.3" fill="#2586da" stroke="#3b0f7d" stroke-width="1.7"/>
<text x="461.2" y="395.4" font-size="16" text-anchor="middle" fill="#fff">B</text>
<text x="828.3" y="355" font-size="10" text-anchor="end" fill="#262626">MACD (12,26,9)</text>
<path d="M28.6 143.2H136.8V152.5Q136.8 161 127.5 161H38Q28.6 161 28.6 151.5Z" fill="#fff" stroke="#e6e8ec" stroke-width="0.8"/>
<path d="M28.8 150.5Q28.8 160.8 38 161H127.5Q136.4 160.8 136.7 151.5" fill="none" stroke="#566074" stroke-width="1.2"/>
<text x="34" y="154.9" font-size="10.5" fill="#333" style="font-family:'Liberation Serif',serif">4.5</text>
<rect x="47.9" y="144.9" width="15.8" height="11.9" fill="#31b240"/>
<ellipse cx="55.5" cy="151.4" rx="3.5" ry="3.3" fill="#7a6312"/>
<path d="M51.6 147.2l1.9 1.7M59.4 147.2l-1.9 1.7" stroke="#d9cf62" stroke-width="1.2" fill="none"/>
<circle cx="52.9" cy="154.7" r="1.05" fill="#efe9a8"/><circle cx="58.1" cy="154.7" r="1.05" fill="#efe9a8"/>
<circle cx="54.2" cy="150.3" r="0.75" fill="#e6dc7a"/><circle cx="56.8" cy="150.3" r="0.75" fill="#e6dc7a"/>
<rect x="66.1" y="144.9" width="14.9" height="11.9" fill="#31b240"/>
<ellipse cx="73.7" cy="151.4" rx="3.5" ry="3.3" fill="#7a6312"/>
<path d="M69.8 147.2l1.9 1.7M77.6 147.2l-1.9 1.7" stroke="#d9cf62" stroke-width="1.2" fill="none"/>
<circle cx="71.1" cy="154.7" r="1.05" fill="#efe9a8"/><circle cx="76.3" cy="154.7" r="1.05" fill="#efe9a8"/>
<circle cx="72.4" cy="150.3" r="0.75" fill="#e6dc7a"/><circle cx="75.0" cy="150.3" r="0.75" fill="#e6dc7a"/>
<rect x="84.0" y="144.9" width="14.9" height="11.9" fill="#31b240"/>
<ellipse cx="91.6" cy="151.4" rx="3.5" ry="3.3" fill="#7a6312"/>
<path d="M87.7 147.2l1.9 1.7M95.5 147.2l-1.9 1.7" stroke="#d9cf62" stroke-width="1.2" fill="none"/>
<circle cx="89.0" cy="154.7" r="1.05" fill="#efe9a8"/><circle cx="94.2" cy="154.7" r="1.05" fill="#efe9a8"/>
<circle cx="90.3" cy="150.3" r="0.75" fill="#e6dc7a"/><circle cx="92.9" cy="150.3" r="0.75" fill="#e6dc7a"/>
<rect x="101.4" y="144.9" width="15.2" height="11.9" fill="#31b240"/>
<ellipse cx="109.0" cy="151.4" rx="3.5" ry="3.3" fill="#7a6312"/>
<path d="M105.1 147.2l1.9 1.7M112.9 147.2l-1.9 1.7" stroke="#d9cf62" stroke-width="1.2" fill="none"/>
<circle cx="106.4" cy="154.7" r="1.05" fill="#efe9a8"/><circle cx="111.6" cy="154.7" r="1.05" fill="#efe9a8"/>
<circle cx="107.7" cy="150.3" r="0.75" fill="#e6dc7a"/><circle cx="110.3" cy="150.3" r="0.75" fill="#e6dc7a"/>
<rect x="118.4" y="144.9" width="9.2" height="11.9" fill="#31b240"/>
<path d="M123.0 148.1a3.5 3.3 0 0 0 0 6.6h3.2V148.6z" fill="#7a6312"/>
<path d="M121.2 147.2l1.9 1.7" stroke="#d9cf62" stroke-width="1.2" fill="none"/>
<circle cx="122.0" cy="154.7" r="1.05" fill="#efe9a8"/>
<circle cx="124.3" cy="150.3" r="0.75" fill="#e6dc7a"/>
<text x="127.6" y="155" font-size="9" fill="#8a8f98">牛</text>
<path d="M6.9 120.6H178.7L187 128L178 136.5H6.9Q4.4 136.5 4.4 134V123.1Q4.4 120.6 6.9 120.6Z" fill="#fffffc"/>
<path d="M178 136.5H6.9Q4.4 136.5 4.4 134V123.1Q4.4 120.6 6.9 120.6H178.7L187 128" fill="none" stroke="#c9c9c9" stroke-width="0.9"/>
<text x="8.4" y="132.4" font-size="10" font-weight="300" fill="#222">下跌趋势提供的阻力: 可信度评分：4.5</text>
</svg></body></html>
